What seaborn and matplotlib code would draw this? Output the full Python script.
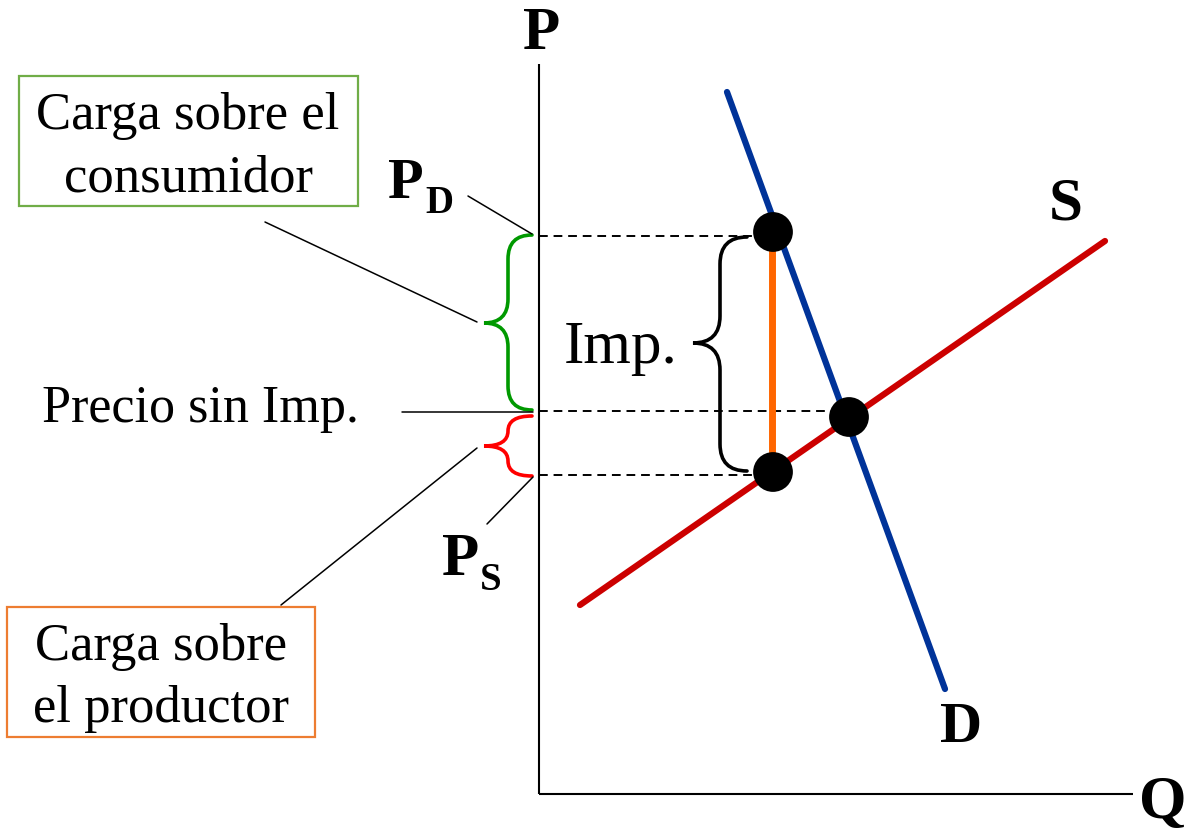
import numpy as np
import pandas as pd
import matplotlib.pyplot as plt
import seaborn as sns
from matplotlib.path import Path
from matplotlib.patches import PathPatch, Rectangle

# ─────────────────────────────────────────────
# DATA  (Q, P units; origin at the axis corner)
# ─────────────────────────────────────────────
demand_q = [188, 406]
demand_p = [702, 105]
supply_q = [41, 566]
supply_p = [189, 553]

dot_q = [234, 310, 234]
dot_p = [562, 377, 322]

# price levels: P_D, precio sin impuesto, P_S
price_levels = [558, 383, 319]
dash_end_q = [234, 310, 234]

tax_q = 233
tax_p = [562, 322]

axis_top = 730
axis_right = 594

# braces: (end x, tip x, top, bottom, tip y)
brace_end_x = [-7, -7, 208]
brace_tip_x = [-55, -55, 154]
brace_top = [559, 378, 557]
brace_bottom = [384, 318, 323]
brace_tip_y = [471, 348, 451]
brace_colors = ["#009900", "#ff0000", "black"]

# leader lines (q0, p0, q1, p1)
leader_q0 = [-71, -274, -137, -258, -52]
leader_p0 = [598, 572, 382, 189, 270]
leader_q1 = [-7, -62, -6, -62, -6]
leader_p1 = [560, 472, 382, 346, 317]

box_consumer = ["Carga sobre el", "consumidor"]
box_producer = ["Carga sobre", "el productor"]

# ─────────────────────────────────────────────
# STYLE
# ─────────────────────────────────────────────
sns.set_theme(style="white")
plt.rcParams["font.family"] = ["Liberation Serif", "DejaVu Serif"]
plt.rcParams["text.color"] = "black"

fig = plt.figure(figsize=(11.86, 8.29), dpi=100)
ax = fig.add_axes([0, 0, 1, 1])
ax.set_xlim(-539, 647)
ax.set_ylim(-34, 795)
ax.axis("off")

# axes of the diagram
ax.plot([0, 0], [0, axis_top], color="black", lw=1.5, solid_capstyle="butt")
ax.plot([0, axis_right], [0, 0], color="black", lw=1.5, solid_capstyle="butt")

# dashed price lines
for p, qe in zip(price_levels, dash_end_q):
    ax.plot([0, qe], [p, p], color="black", lw=1.4,
            linestyle=(0, (4.5, 3.0)), zorder=2)

# supply and demand
df_s = pd.DataFrame({"Q": supply_q, "P": supply_p})
df_d = pd.DataFrame({"Q": demand_q, "P": demand_p})
sns.lineplot(data=df_s, x="Q", y="P", ax=ax, color="#cc0000", lw=4.5,
             estimator=None, sort=False, zorder=3)
sns.lineplot(data=df_d, x="Q", y="P", ax=ax, color="#003399", lw=4.5,
             estimator=None, sort=False, zorder=3)

# tax wedge
ax.plot([tax_q, tax_q], tax_p, color="#ff6600", lw=5, zorder=4)

# points
sns.scatterplot(x=dot_q, y=dot_p, ax=ax, color="black", s=820,
                edgecolor="none", zorder=5)


def draw_brace(ax, x_end, x_tip, top, bottom, tip, color, lw):
    xm = (x_end + x_tip) / 2
    r = min(abs(x_end - x_tip) / 2, (top - bottom) / 4)
    verts = [(x_end, top), (xm, top), (xm, top - r),
             (xm, tip + r), (xm, tip), (x_tip, tip),
             (xm, tip), (xm, tip - r),
             (xm, bottom + r), (xm, bottom), (x_end, bottom)]
    codes = [Path.MOVETO, Path.CURVE3, Path.CURVE3,
             Path.LINETO, Path.CURVE3, Path.CURVE3,
             Path.CURVE3, Path.CURVE3,
             Path.LINETO, Path.CURVE3, Path.CURVE3]
    ax.add_patch(PathPatch(Path(verts, codes), fill=False,
                           edgecolor=color, lw=lw, capstyle="round"))


for i in range(3):
    draw_brace(ax, brace_end_x[i], brace_tip_x[i], brace_top[i],
               brace_bottom[i], brace_tip_y[i], brace_colors[i], 2.6)

# leader lines
for q0, p0, q1, p1 in zip(leader_q0, leader_p0, leader_q1, leader_p1):
    ax.plot([q0, q1], [p0, p1], color="black", lw=1.1)

# text boxes
ax.add_patch(Rectangle((-520, 588), 339, 130, fill=False,
                       edgecolor="#70ad47", lw=1.6))
ax.add_patch(Rectangle((-532, 57), 308, 130, fill=False,
                       edgecolor="#ed7d31", lw=1.6))
for line, p in zip(box_consumer, [666, 603]):
    ax.text(-351, p, line, fontsize=38, ha="center", va="baseline")
for line, p in zip(box_producer, [135, 73]):
    ax.text(-378, p, line, fontsize=38, ha="center", va="baseline")

ax.text(-339, 373, "Precio sin Imp.", fontsize=37.5, ha="center", va="baseline")
ax.text(82, 432, "Imp.", fontsize=44, ha="center", va="baseline")

# bold labels
bold = dict(fontweight="bold", va="baseline")
ax.text(3, 746, "P", fontsize=44, ha="center", **bold)
ax.text(600, -23, "Q", fontsize=44, ha="left", **bold)
ax.text(527, 576, "S", fontsize=44, ha="center", **bold)
ax.text(422, 53, "D", fontsize=42, ha="center", **bold)
ax.text(-151, 597, "P", fontsize=42, ha="left", **bold)
ax.text(-114, 582, "D", fontsize=28, ha="left", **bold)
ax.text(-97, 220, "P", fontsize=44, ha="left", **bold)
ax.text(-59, 205, "S", fontsize=28, ha="left", **bold)

fig.savefig("out.png", dpi=100)
